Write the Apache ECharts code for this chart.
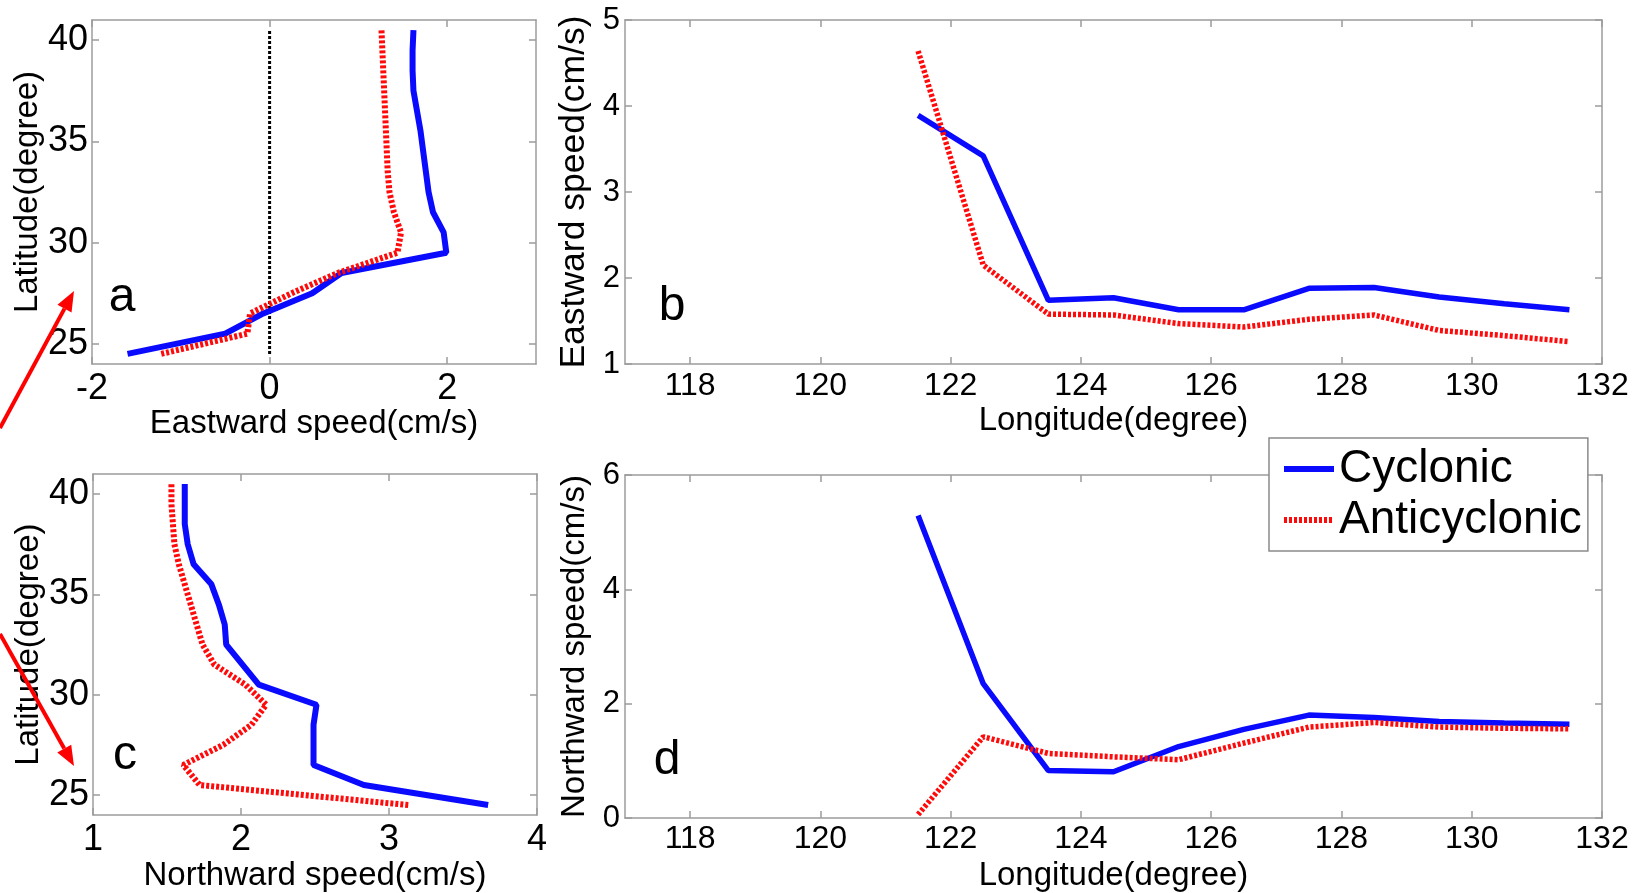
<!DOCTYPE html>
<html>
<head>
<meta charset="utf-8">
<script src="https://cdn.jsdelivr.net/npm/echarts@6/dist/echarts.min.js"></script>
<style>
  html, body { margin: 0; padding: 0; background: #fff; }
  #chart { width: 1644px; height: 893px; }
</style>
</head>
<body>
<div id="chart"></div>
<script>
// latitude bins (degree), panels a and c
var latitudes = [24.5, 25.5, 26.5, 27.5, 28.5, 29.5, 30.5, 31.5, 32.5, 33.5, 34.5, 35.5, 36.5, 37.5, 38.5, 39.5, 40.5];
// longitude bins (degree), panels b and d
var longitudes = [121.5, 122.5, 123.5, 124.5, 125.5, 126.5, 127.5, 128.5, 129.5, 130.5, 131.5];

// a: eastward speed (cm/s) against latitude
var eastLatCyclonic = [-1.60, -0.50, -0.07, 0.48, 0.81, 1.99, 1.96, 1.84, 1.79, 1.76, 1.73, 1.70, 1.66, 1.62, 1.61, 1.61, 1.62];
var eastLatAnticyclonic = [-1.22, -0.25, -0.22, 0.25, 0.77, 1.44, 1.48, 1.40, 1.35, 1.33, 1.32, 1.31, 1.30, 1.29, 1.28, 1.27, 1.26];
// zero reference line in a
var zeroLineSpeed = [0, 0];
var zeroLineLat = [24.5, 40.5];

// c: northward speed (cm/s) against latitude
var northLatCyclonic = [3.67, 2.83, 2.49, 2.49, 2.49, 2.51, 2.12, 2.01, 1.90, 1.89, 1.85, 1.80, 1.68, 1.64, 1.62, 1.62, 1.62];
var northLatAnticyclonic = [3.13, 1.72, 1.61, 1.88, 2.07, 2.17, 2.03, 1.82, 1.74, 1.70, 1.66, 1.62, 1.58, 1.55, 1.54, 1.53, 1.53];

// b: eastward speed (cm/s) against longitude
var eastLonCyclonic = [3.89, 3.42, 1.74, 1.77, 1.63, 1.63, 1.88, 1.89, 1.78, 1.70, 1.63];
var eastLonAnticyclonic = [4.64, 2.15, 1.58, 1.57, 1.47, 1.43, 1.52, 1.57, 1.39, 1.33, 1.26];

// d: northward speed (cm/s) against longitude
var northLonCyclonic = [5.29, 2.35, 0.83, 0.81, 1.25, 1.55, 1.80, 1.76, 1.69, 1.66, 1.64];
var northLonAnticyclonic = [0.06, 1.42, 1.13, 1.07, 1.02, 1.31, 1.59, 1.67, 1.59, 1.57, 1.56];

// tick labels
var latTicks = [25, 30, 35, 40];
var eastTicks = [-2, 0, 2];
var northTicks = [1, 2, 3, 4];
var lonTicks = [118, 120, 122, 124, 126, 128, 130, 132];
var eastLonTicks = [1, 2, 3, 4, 5];
var northLonTicks = [0, 2, 4, 6];

var FONT = '"Liberation Sans", Arial, Helvetica, sans-serif';
var FRAME = '#9c9c9c';
var BLUE = '#0a0aff';
var RED = '#ff0a0a';

function axis(grid, pos, min, max, ticks, labelSize, margin, name, nameGap, nameSize) {
  var isMain = pos === 'bottom' || pos === 'left';
  return {
    type: 'value',
    gridIndex: grid,
    position: pos,
    min: min,
    max: max,
    axisLine: { show: true, onZero: false, lineStyle: { color: FRAME, width: 1.5 } },
    axisTick: { show: true, inside: true, length: 7, customValues: ticks, lineStyle: { color: FRAME, width: 1.5 } },
    axisLabel: {
      show: isMain, customValues: ticks, color: '#000', fontSize: labelSize,
      fontFamily: FONT, margin: margin
    },
    splitLine: { show: false },
    name: isMain ? name : '',
    nameLocation: 'middle',
    nameGap: nameGap,
    nameTextStyle: { color: '#000', fontSize: nameSize, fontFamily: FONT }
  };
}

function line(name, x, y, xi, color, dashed, width) {
  return {
    type: 'line',
    name: name,
    xAxisIndex: xi,
    yAxisIndex: xi,
    data: x.map(function (v, i) { return [v, y[i]]; }),
    showSymbol: false,
    symbol: 'none',
    silent: true,
    lineStyle: { color: color, width: width, type: dashed || 'solid', cap: 'butt' },
    itemStyle: { color: color },
    z: name === 'Cyclonic' ? 3 : 4
  };
}

function arrow(x1, y1, x2, y2) {
  var dx = x2 - x1, dy = y2 - y1, len = Math.sqrt(dx * dx + dy * dy);
  var ux = dx / len, uy = dy / len, hl = 20, hw = 8;
  var bx = x2 - ux * hl, by = y2 - uy * hl;
  return [
    { type: 'line', z: 100, shape: { x1: x1, y1: y1, x2: bx, y2: by }, style: { stroke: '#ff0000', lineWidth: 4 } },
    { type: 'polygon', z: 100, shape: { points: [[x2, y2], [bx - uy * hw, by + ux * hw], [bx + uy * hw, by - ux * hw]] }, style: { fill: '#ff0000' } }
  ];
}

function letter(t, x, y) {
  return { type: 'text', z: 100, x: x, y: y, style: { text: t, fill: '#000', font: '48px ' + FONT, align: 'center', verticalAlign: 'middle' } };
}

var chart = echarts.init(document.getElementById('chart'));

var dotted = [3, 2];

chart.setOption({
  animation: false,
  backgroundColor: '#fff',
  grid: [
    { left: 92, top: 20, width: 444, height: 344 },
    { left: 625, top: 20, width: 977, height: 344 },
    { left: 93, top: 474, width: 444, height: 343 },
    { left: 625, top: 475, width: 977, height: 343 }
  ],
  xAxis: [
    axis(0, 'bottom', -2, 3, eastTicks, 36, 7, 'Eastward speed(cm/s)', 41, 33),
    axis(1, 'bottom', 117, 132, lonTicks, 32, 6, 'Longitude(degree)', 40, 33),
    axis(2, 'bottom', 1, 4, northTicks, 36, 7, 'Northward speed(cm/s)', 42, 33),
    axis(3, 'bottom', 117, 132, lonTicks, 32, 5, 'Longitude(degree)', 41, 33),
    axis(0, 'top', -2, 3, eastTicks),
    axis(1, 'top', 117, 132, lonTicks),
    axis(2, 'top', 1, 4, northTicks),
    axis(3, 'top', 117, 132, lonTicks)
  ],
  yAxis: [
    axis(0, 'left', 24, 41, latTicks, 36, 4, 'Latitude(degree)', 46, 33),
    axis(1, 'left', 1, 5, eastLonTicks, 31, 5, 'Eastward speed(cm/s)', 29, 35.5),
    axis(2, 'left', 24, 41, latTicks, 36, 4, 'Latitude(degree)', 46, 33),
    axis(3, 'left', 0, 6, northLonTicks, 31, 5, 'Northward speed(cm/s)', 29, 33),
    axis(0, 'right', 24, 41, latTicks),
    axis(1, 'right', 1, 5, eastLonTicks),
    axis(2, 'right', 24, 41, latTicks),
    axis(3, 'right', 0, 6, northLonTicks)
  ],
  legend: {
    data: ['Cyclonic', 'Anticyclonic'],
    orient: 'vertical',
    left: 1269,
    top: 438,
    itemWidth: 50,
    itemHeight: 20,
    itemGap: 5,
    padding: [8, 6, 8, 12],
    backgroundColor: '#fff',
    borderColor: '#8a8a8a',
    borderWidth: 1.5,
    selectedMode: false,
    itemStyle: { opacity: 0 },
    lineStyle: { width: 6 },
    textStyle: { color: '#000', fontSize: 46, fontFamily: FONT }
  },
  series: [
    {
      type: 'line', name: 'zero', xAxisIndex: 0, yAxisIndex: 0,
      data: zeroLineSpeed.map(function (v, i) { return [v, zeroLineLat[i]]; }),
      showSymbol: false, symbol: 'none', silent: true,
      lineStyle: { color: '#000', width: 3, type: [3, 2], cap: 'butt' }, z: 2
    },
    line('Cyclonic', eastLatCyclonic, latitudes, 0, BLUE, null, 6),
    line('Anticyclonic', eastLatAnticyclonic, latitudes, 0, RED, dotted, 6),
    line('Cyclonic', longitudes, eastLonCyclonic, 1, BLUE, null, 5.5),
    line('Anticyclonic', longitudes, eastLonAnticyclonic, 1, RED, dotted, 5.5),
    line('Cyclonic', northLatCyclonic, latitudes, 2, BLUE, null, 6),
    line('Anticyclonic', northLatAnticyclonic, latitudes, 2, RED, dotted, 6),
    line('Cyclonic', longitudes, northLonCyclonic, 3, BLUE, null, 5.5),
    line('Anticyclonic', longitudes, northLonAnticyclonic, 3, RED, dotted, 5.5)
  ],
  graphic: [
    letter('a', 122, 298),
    letter('b', 672, 307),
    letter('c', 125, 756),
    letter('d', 667, 761)
  ].concat(arrow(0, 428, 74, 291), arrow(0, 634, 74, 766))
});
</script>
</body>
</html>
